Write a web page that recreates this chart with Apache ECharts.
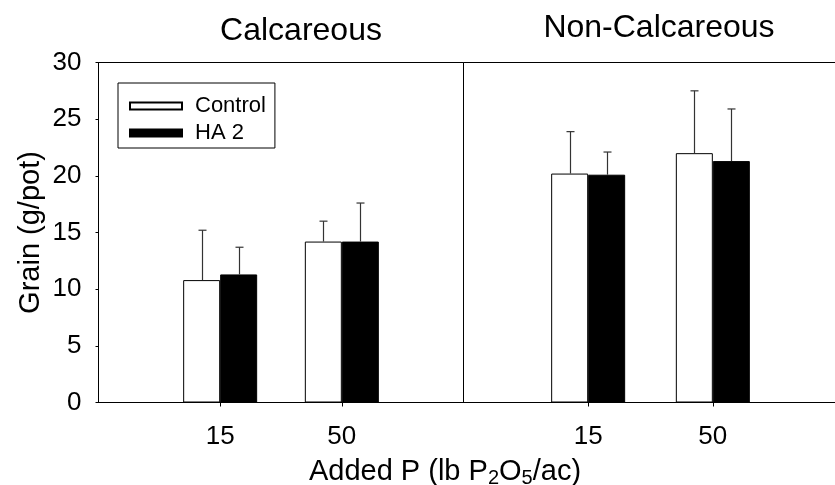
<!DOCTYPE html>
<html>
<head>
<meta charset="utf-8">
<script src="https://cdn.jsdelivr.net/npm/echarts@6/dist/echarts.min.js"></script>
<style>
  html, body { margin: 0; padding: 0; background: #fff; }
  #chart { width: 835px; height: 485px; }
</style>
</head>
<body>
<div id="chart"></div>
<script>
// categories on the x axis (empty slots pad each panel)
const categories = ['', '15', '50', ''];
const yTicks = [0, 5, 10, 15, 20, 25, 30];

// Calcareous panel
const calcControl = ['-', 10.8, 14.2, '-'];
const calcHA2 = ['-', 11.3, 14.2, '-'];
const calcControlErr = [null, 4.4, 1.8, null];
const calcHA2Err = [null, 2.4, 3.4, null];

// Non-Calcareous panel
const nonControl = ['-', 20.2, 22.0, '-'];
const nonHA2 = ['-', 20.1, 21.3, '-'];
const nonControlErr = [null, 3.7, 5.5, null];
const nonHA2Err = [null, 2.0, 4.6, null];

const FONT = 'Liberation Sans, Arial, sans-serif';
const BAR_W = 37;

const chart = echarts.init(document.getElementById('chart'));

function errData(means, errs) {
    const out = [];
    means.forEach((m, i) => {
        if (m !== '-' && errs[i] != null) out.push([i, m, errs[i]]);
    });
    return out;
}

function errSeries(gridIdx, means, errs, dx) {
    return {
        type: 'custom',
        xAxisIndex: gridIdx,
        yAxisIndex: gridIdx,
        z: 5,
        silent: true,
        data: errData(means, errs),
        encode: { x: 0, y: 1 },
        renderItem: function (params, api) {
            const base = api.coord([api.value(0), api.value(1)]);
            const top = api.coord([api.value(0), api.value(1) + api.value(2)]);
            const x = Math.round(base[0] + dx) + 0.5;
            const style = { stroke: '#333', lineWidth: 1.2 };
            return {
                type: 'group',
                children: [
                    { type: 'line', shape: { x1: x, y1: base[1], x2: x, y2: top[1] }, style: style },
                    { type: 'line', shape: { x1: x - 4, y1: top[1], x2: x + 4, y2: top[1] }, style: style }
                ]
            };
        }
    };
}

function xAxisFor(gridIdx) {
    return {
        type: 'category',
        gridIndex: gridIdx,
        data: categories,
        boundaryGap: false,
        axisLine: { lineStyle: { color: '#000', width: 1 } },
        axisTick: {
            length: 4,
            interval: function (i) { return i === 1 || i === 2; },
            lineStyle: { color: '#000' }
        },
        axisLabel: { interval: 0, margin: 21, fontSize: 26, color: '#000', fontFamily: FONT },
        splitLine: { show: false }
    };
}

const option = {
    backgroundColor: '#fff',
    animation: false,
    title: [
        { text: 'Calcareous', left: 296, top: 10, textAlign: 'center',
          textStyle: { fontSize: 32, fontWeight: 'normal', color: '#000', fontFamily: FONT } },
        { text: 'Non-Calcareous', left: 654, top: 7, textAlign: 'center',
          textStyle: { fontSize: 32, fontWeight: 'normal', color: '#000', fontFamily: FONT } },
        { text: '{a|Added P (lb P}{s|2}{a|O}{s|5}{a|/ac)}', left: 440, top: 451, textAlign: 'center',
          textStyle: {
              fontWeight: 'normal',
              rich: {
                  a: { fontSize: 29, lineHeight: 32, fontWeight: 'normal', color: '#000', fontFamily: FONT, verticalAlign: 'middle' },
                  s: { fontSize: 20, lineHeight: 20, fontWeight: 'normal', color: '#000', fontFamily: FONT, verticalAlign: 'bottom', padding: [4, 0, 0, 0] }
              }
          } }
    ],
    legend: {
        data: ['Control', 'HA 2'],
        orient: 'vertical',
        left: 118,
        top: 83,
        icon: 'rect',
        itemWidth: 52,
        itemHeight: 7,
        itemGap: 5,
        padding: [12, 9, 4, 11],
        borderColor: '#000',
        borderWidth: 1,
        borderRadius: 0,
        selectedMode: false,
        textStyle: { fontSize: 22, color: '#000', fontFamily: FONT, padding: [0, 0, 0, 8] }
    },
    grid: [
        { left: 98.5, right: 371.5, top: 62.5, bottom: 82.5, show: true, borderColor: '#000', borderWidth: 1,
          backgroundColor: 'transparent', outerBoundsMode: 'none' },
        { left: 463.5, width: 374, top: 62.5, bottom: 82.5, show: true, borderColor: '#000', borderWidth: 1,
          backgroundColor: 'transparent', outerBoundsMode: 'none' }
    ],
    xAxis: [xAxisFor(0), xAxisFor(1)],
    yAxis: [
        {
            type: 'value', gridIndex: 0, min: yTicks[0], max: yTicks[yTicks.length - 1], interval: 5,
            name: 'Grain (g/pot)', nameLocation: 'middle', nameGap: 53,
            nameTextStyle: { fontSize: 29, color: '#000', fontFamily: FONT },
            axisLine: { show: true, lineStyle: { color: '#000' } },
            axisTick: { show: true, length: 3, lineStyle: { color: '#000' } },
            axisLabel: { fontSize: 26, color: '#000', margin: 17, fontFamily: FONT },
            splitLine: { show: false }
        },
        {
            type: 'value', gridIndex: 1, min: yTicks[0], max: yTicks[yTicks.length - 1], interval: 5,
            axisLine: { show: false }, axisTick: { show: false }, axisLabel: { show: false },
            splitLine: { show: false }
        }
    ],
    series: [
        { name: 'Control', type: 'bar', xAxisIndex: 0, yAxisIndex: 0, data: calcControl, barWidth: BAR_W, barGap: '0%',
          itemStyle: { color: '#fff', borderColor: '#000', borderWidth: 1 } },
        { name: 'HA 2', type: 'bar', xAxisIndex: 0, yAxisIndex: 0, data: calcHA2, barWidth: BAR_W, barGap: '0%',
          itemStyle: { color: '#000', borderColor: '#000', borderWidth: 1 } },
        { name: 'Control', type: 'bar', xAxisIndex: 1, yAxisIndex: 1, data: nonControl, barWidth: BAR_W, barGap: '0%',
          itemStyle: { color: '#fff', borderColor: '#000', borderWidth: 1 } },
        { name: 'HA 2', type: 'bar', xAxisIndex: 1, yAxisIndex: 1, data: nonHA2, barWidth: BAR_W, barGap: '0%',
          itemStyle: { color: '#000', borderColor: '#000', borderWidth: 1 } },
        errSeries(0, calcControl, calcControlErr, -BAR_W / 2),
        errSeries(0, calcHA2, calcHA2Err, BAR_W / 2),
        errSeries(1, nonControl, nonControlErr, -BAR_W / 2),
        errSeries(1, nonHA2, nonHA2Err, BAR_W / 2)
    ]
};

chart.setOption(option);
</script>
</body>
</html>
